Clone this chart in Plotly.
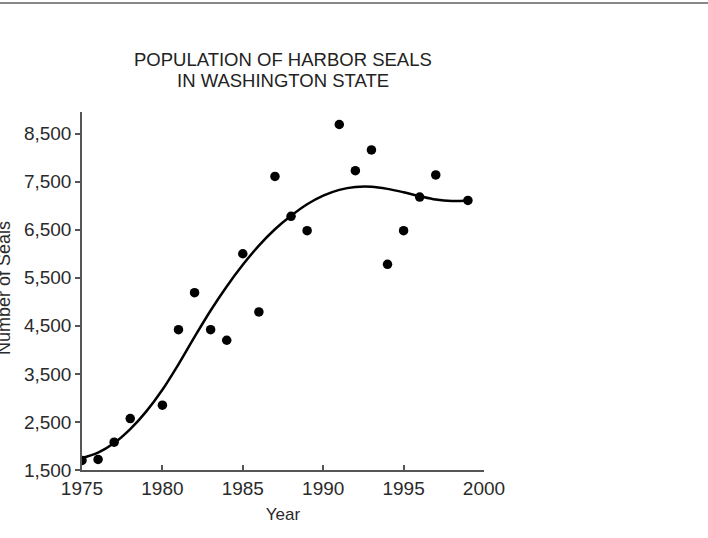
import plotly.graph_objects as go

years = [1975, 1976, 1977, 1978, 1980, 1981, 1982, 1983, 1984, 1985, 1986,
         1987, 1988, 1989, 1991, 1992, 1993, 1994, 1995, 1996, 1997, 1999]
seals = [1700, 1720, 2080, 2570, 2850, 4420, 5190, 4420, 4200, 6000, 4790,
         7610, 6780, 6480, 8690, 7730, 8160, 5780, 6480, 7180, 7640, 7110]

# fitted trend line
fit_years = list(range(1975, 2000))
fit_seals = [1750, 1860, 2060, 2350, 2720, 3170, 3700, 4270, 4820, 5320,
             5770, 6170, 6510, 6790, 7030, 7210, 7330, 7390, 7395, 7350,
             7280, 7200, 7130, 7100, 7110]

ytick_vals = [1500, 2500, 3500, 4500, 5500, 6500, 7500, 8500]
xtick_vals = [1975, 1980, 1985, 1990, 1995, 2000]
title_lines = ["POPULATION OF HARBOR SEALS", "IN WASHINGTON STATE"]

fnt = "Liberation Sans, Arial, Helvetica, sans-serif"
txt = "#2a2a2a"

fig = go.Figure()
fig.add_trace(go.Scatter(
    x=fit_years, y=fit_seals, mode="lines",
    line=dict(color="black", width=2.5, shape="spline", smoothing=1.0),
    hoverinfo="skip", showlegend=False,
))
fig.add_trace(go.Scatter(
    x=years, y=seals, mode="markers",
    marker=dict(color="black", size=9.5),
    showlegend=False,
))

# title drawn as two annotations to get the tight line spacing
annos = []
for i, line in enumerate(title_lines):
    annos.append(dict(
        text=line, x=0.5, xref="paper", xanchor="center",
        y=(470 - 59 - 21 * i) / 358, yref="paper", yanchor="middle",
        showarrow=False, font=dict(size=18.5, color="#222"),
    ))
annos.append(dict(
    text="Number of Seals", textangle=-90,
    x=-78 / 402, xref="paper", xanchor="center",
    y=(470 - 288) / 358, yref="paper", yanchor="middle",
    showarrow=False, font=dict(size=18, color=txt),
))

fig.update_layout(
    width=708, height=538,
    margin=dict(l=82, r=224, t=112, b=68),
    paper_bgcolor="white", plot_bgcolor="white",
    font=dict(family=fnt, color=txt),
    xaxis=dict(
        range=[1975, 2000], tickvals=xtick_vals,
        showgrid=False, zeroline=False,
        showline=True, linecolor="#555", linewidth=1.5,
        ticks="inside", ticklen=5, tickcolor="#555", tickwidth=1.5,
        tickfont=dict(size=19, color=txt),
        title=dict(text="Year", font=dict(size=17, color=txt), standoff=11),
    ),
    yaxis=dict(
        range=[1500, 8950], tickvals=ytick_vals, tickformat=",",
        showgrid=False, zeroline=False,
        showline=True, linecolor="#555", linewidth=1.5,
        ticks="outside", ticklen=5, tickcolor="#555", tickwidth=1.5,
        tickfont=dict(size=19, color=txt),
    ),
    annotations=annos,
    shapes=[dict(
        type="line", xref="paper", yref="paper",
        x0=-82 / 402, x1=626 / 402, y0=1 + 109 / 358, y1=1 + 109 / 358,
        line=dict(color="#888", width=2),
    )],
)

# drop the default page margin so the figure sits at the window's corner
fig.write_html("out.html", config={"displayModeBar": False},
               post_script="document.body.style.margin='0';")
